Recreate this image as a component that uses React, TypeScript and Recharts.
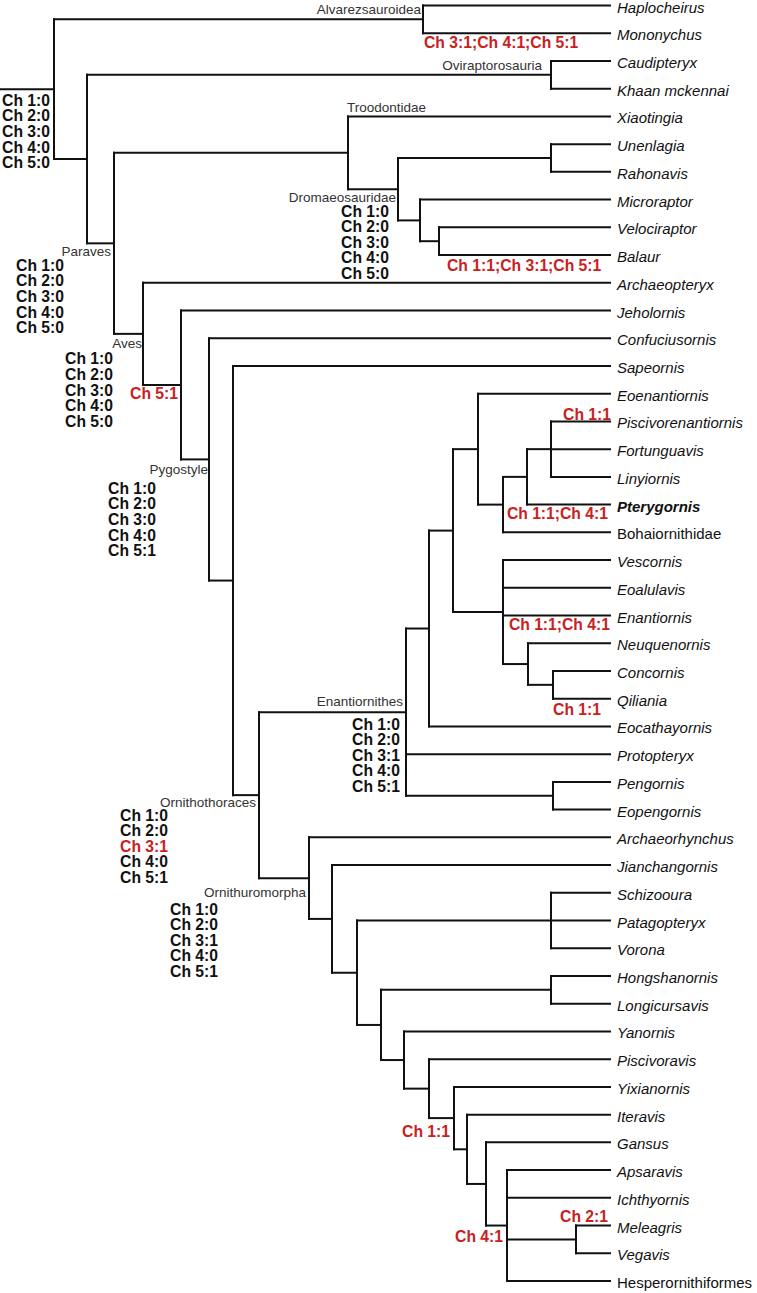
import { ReferenceLine, Scatter, ScatterChart, XAxis, YAxis } from "recharts";

// terminal taxa, top to bottom
const taxa = [
  "Haplocheirus", "Mononychus", "Caudipteryx", "Khaan mckennai", "Xiaotingia",
  "Unenlagia", "Rahonavis", "Microraptor", "Velociraptor", "Balaur",
  "Archaeopteryx", "Jeholornis", "Confuciusornis", "Sapeornis", "Eoenantiornis",
  "Piscivorenantiornis", "Fortunguavis", "Linyiornis", "Pterygornis", "Bohaiornithidae",
  "Vescornis", "Eoalulavis", "Enantiornis", "Neuquenornis", "Concornis",
  "Qiliania", "Eocathayornis", "Protopteryx", "Pengornis", "Eopengornis",
  "Archaeorhynchus", "Jianchangornis", "Schizooura", "Patagopteryx", "Vorona",
  "Hongshanornis", "Longicursavis", "Yanornis", "Piscivoravis", "Yixianornis",
  "Iteravis", "Gansus", "Apsaravis", "Ichthyornis", "Meleagris",
  "Vegavis", "Hesperornithiformes",
];
const plainTaxa = ["Bohaiornithidae", "Hesperornithiformes"];
const boldTaxa = ["Pterygornis"];

// internal nodes: id, depth (horizontal position of the split), children
const nodes: [string, number, string[]][] = [
  ["root", 54, ["alv", "n87"]],
  ["alv", 423, ["Haplocheirus", "Mononychus"]],
  ["n87", 87, ["ovi", "paraves"]],
  ["ovi", 551, ["Caudipteryx", "Khaan mckennai"]],
  ["paraves", 114, ["troo", "aves"]],
  ["troo", 348, ["Xiaotingia", "drom"]],
  ["drom", 398, ["unen", "n420"]],
  ["unen", 551, ["Unenlagia", "Rahonavis"]],
  ["n420", 420, ["Microraptor", "n439"]],
  ["n439", 439, ["Velociraptor", "Balaur"]],
  ["aves", 143, ["Archaeopteryx", "n181"]],
  ["n181", 181, ["Jeholornis", "pyg"]],
  ["pyg", 209, ["Confuciusornis", "n233"]],
  ["n233", 233, ["Sapeornis", "orth"]],
  ["orth", 259, ["enant", "ornu"]],
  ["enant", 406, ["n429", "Protopteryx", "peng"]],
  ["n429", 429, ["n453", "Eocathayornis"]],
  ["n453", 453, ["n478", "n503b"]],
  ["n478", 478, ["Eoenantiornis", "n503a"]],
  ["n503a", 503, ["n527", "Bohaiornithidae"]],
  ["n527", 527, ["n551p", "Pterygornis"]],
  ["n551p", 551, ["Piscivorenantiornis", "Fortunguavis", "Linyiornis"]],
  ["n503b", 503, ["Vescornis", "Eoalulavis", "Enantiornis", "n528"]],
  ["n528", 528, ["Neuquenornis", "n553c"]],
  ["n553c", 553, ["Concornis", "Qiliania"]],
  ["peng", 553, ["Pengornis", "Eopengornis"]],
  ["ornu", 309, ["Archaeorhynchus", "n332"]],
  ["n332", 332, ["Jianchangornis", "n357"]],
  ["n357", 357, ["n551s", "n381"]],
  ["n551s", 551, ["Schizooura", "Patagopteryx", "Vorona"]],
  ["n381", 381, ["n551h", "n404"]],
  ["n551h", 551, ["Hongshanornis", "Longicursavis"]],
  ["n404", 404, ["Yanornis", "n429b"]],
  ["n429b", 429, ["Piscivoravis", "n454"]],
  ["n454", 454, ["Yixianornis", "n467"]],
  ["n467", 467, ["Iteravis", "n486"]],
  ["n486", 486, ["Gansus", "n507"]],
  ["n507", 507, ["Apsaravis", "Ichthyornis", "n576", "Hesperornithiformes"]],
  ["n576", 576, ["Meleagris", "Vegavis"]],
];
const tipDepth = 610;

const cladeNames: [string, string][] = [
  ["alv", "Alvarezsauroidea"],
  ["ovi", "Oviraptorosauria"],
  ["troo", "Troodontidae"],
  ["drom", "Dromaeosauridae"],
  ["paraves", "Paraves"],
  ["aves", "Aves"],
  ["pyg", "Pygostyle"],
  ["orth", "Ornithothoraces"],
  ["enant", "Enantiornithes"],
  ["ornu", "Ornithuromorpha"],
];

// reconstructed states at nodes
const nodeStates: [string, string[]][] = [
  ["root", ["Ch 1:0", "Ch 2:0", "Ch 3:0", "Ch 4:0", "Ch 5:0"]],
  ["paraves", ["Ch 1:0", "Ch 2:0", "Ch 3:0", "Ch 4:0", "Ch 5:0"]],
  ["aves", ["Ch 1:0", "Ch 2:0", "Ch 3:0", "Ch 4:0", "Ch 5:0"]],
  ["pyg", ["Ch 1:0", "Ch 2:0", "Ch 3:0", "Ch 4:0", "Ch 5:1"]],
  ["drom", ["Ch 1:0", "Ch 2:0", "Ch 3:0", "Ch 4:0", "Ch 5:0"]],
  ["orth", ["Ch 1:0", "Ch 2:0", "Ch 3:1", "Ch 4:0", "Ch 5:1"]],
  ["enant", ["Ch 1:0", "Ch 2:0", "Ch 3:1", "Ch 4:0", "Ch 5:1"]],
  ["ornu", ["Ch 1:0", "Ch 2:0", "Ch 3:1", "Ch 4:0", "Ch 5:1"]],
];
const changedNodeStates: [string, string][] = [["orth", "Ch 3:1"]];

// state changes along branches (node id or taxon)
const transitions: [string, string][] = [
  ["alv", "Ch 3:1;Ch 4:1;Ch 5:1"],
  ["n439", "Ch 1:1;Ch 3:1;Ch 5:1"],
  ["n181", "Ch 5:1"],
  ["Piscivorenantiornis", "Ch 1:1"],
  ["Pterygornis", "Ch 1:1;Ch 4:1"],
  ["Enantiornis", "Ch 1:1;Ch 4:1"],
  ["Qiliania", "Ch 1:1"],
  ["n454", "Ch 1:1"],
  ["n507", "Ch 4:1"],
  ["Meleagris", "Ch 2:1"],
];

// label placement (pixel offsets from anchor)
const nameLayout: Record<string, [number, number, "start" | "end", boolean?]> = {
  alv: [-2, -10, "end"],
  ovi: [-9, -9, "end"],
  troo: [-1, -9, "start", true],
  drom: [-2, 8, "end"],
  paraves: [-3, 8, "end"],
  aves: [-1, 10, "end"],
  pyg: [-1, 10, "end"],
  orth: [-3, 7, "end"],
  enant: [-3, -11, "end"],
  ornu: [-3, 14, "end"],
};
const statesLayout: Record<string, [number, number]> = {
  root: [-4, 11],
  paraves: [-50, 22],
  aves: [-30, 25],
  pyg: [-53, 29],
  drom: [-9, 22],
  orth: [-91, 20],
  enant: [-6, 12],
  ornu: [-91, 31],
};
const transitionLayout: Record<string, [number, number, "start" | "end"]> = {
  alv: [1, 23, "start"],
  n439: [8, 24, "start"],
  n181: [-3, 9, "end"],
  Piscivorenantiornis: [1, -7, "end"],
  Pterygornis: [-2, 8.5, "end"],
  Enantiornis: [0, 8.5, "end"],
  Qiliania: [-9, 11, "end"],
  n454: [-4, 13, "end"],
  n507: [-4, 11, "end"],
  Meleagris: [-2, -9, "end"],
};

const RED = "#c9211e";
const INK = "#111";
const FONT = "'Liberation Sans', Arial, sans-serif";
const STATE_STEP = 15.6;

const nodeMap = new Map(nodes.map(([id, depth, children]) => [id, { depth, children }]));

function yOf(id: string): number {
  const leaf = taxa.indexOf(id);
  if (leaf >= 0) return leaf;
  const n = nodeMap.get(id)!;
  return (yOf(n.children[0]) + yOf(n.children[n.children.length - 1])) / 2;
}
function depthOf(id: string): number {
  return nodeMap.has(id) ? nodeMap.get(id)!.depth : tipDepth;
}

type Seg = [{ x: number; y: number }, { x: number; y: number }];
const segments: Seg[] = [];
segments.push([{ x: 0, y: yOf("root") }, { x: depthOf("root"), y: yOf("root") }]);
nodes.forEach(([, depth, children]) => {
  const ys = children.map(yOf);
  segments.push([{ x: depth, y: ys[0] }, { x: depth, y: ys[ys.length - 1] }]);
  children.forEach((c, i) => segments.push([{ x: depth, y: ys[i] }, { x: depthOf(c), y: ys[i] }]));
});

const leafPoints = taxa.map((name, i) => ({ x: tipDepth, y: i, name }));
const namePoints = cladeNames.map(([id, text]) => {
  const [dx, dy, anchor, top] = nameLayout[id];
  const n = nodeMap.get(id)!;
  return { x: n.depth, y: top ? yOf(n.children[0]) : yOf(id), text, dx, dy, anchor };
});
const statePoints = nodeStates.map(([id, lines]) => {
  const [dx, dy] = statesLayout[id];
  const red = changedNodeStates.filter(([n]) => n === id).map(([, t]) => t);
  return { x: depthOf(id), y: yOf(id), lines, red, dx, dy };
});
const transitionPoints = transitions.map(([id, text]) => {
  const [dx, dy, anchor] = transitionLayout[id];
  return { x: depthOf(id), y: yOf(id), text, dx, dy, anchor };
});

const LeafLabel = (p: any) => {
  const name: string = p.payload.name;
  return (
    <text
      x={p.cx + 7}
      y={p.cy + 1.5}
      dominantBaseline="central"
      fontFamily={FONT}
      fontSize={15}
      fontStyle={plainTaxa.includes(name) ? "normal" : "italic"}
      fontWeight={boldTaxa.includes(name) ? "bold" : "normal"}
      fill="#111"
    >
      {name}
    </text>
  );
};

const CladeLabel = (p: any) => (
  <text
    x={p.cx + p.payload.dx}
    y={p.cy + p.payload.dy}
    textAnchor={p.payload.anchor}
    dominantBaseline="central"
    fontFamily={FONT}
    fontSize={13.5}
    fill="#333"
  >
    {p.payload.text}
  </text>
);

const StateLabel = (p: any) => (
  <g>
    {p.payload.lines.map((t: string, i: number) => (
      <text
        key={i}
        x={p.cx + p.payload.dx}
        y={p.cy + p.payload.dy + i * STATE_STEP}
        textAnchor="end"
        dominantBaseline="central"
        fontFamily={FONT}
        fontSize={15.7}
        fontWeight="bold"
        fill={p.payload.red.includes(t) ? RED : INK}
      >
        {t}
      </text>
    ))}
  </g>
);

const TransitionLabel = (p: any) => (
  <text
    x={p.cx + p.payload.dx}
    y={p.cy + p.payload.dy}
    textAnchor={p.payload.anchor}
    dominantBaseline="central"
    fontFamily={FONT}
    fontSize={15.7}
    fontWeight="bold"
    fill={RED}
  >
    {p.payload.text}
  </text>
);

export default function App() {
  return (
    <div style={{ position: "absolute", left: 0, top: 0, background: "#fff" }}>
      <ScatterChart width={757} height={1293} margin={{ top: 5.5, right: 0, bottom: 12, left: 0 }}>
        <XAxis type="number" dataKey="x" domain={[0, 757]} hide />
        <YAxis type="number" dataKey="y" domain={[0, taxa.length - 1]} reversed hide />
        {segments.map((s, i) => (
          <ReferenceLine
            key={i}
            segment={s}
            stroke={INK}
            strokeWidth={2}
            strokeLinecap="square"
            ifOverflow="visible"
          />
        ))}
        <Scatter data={leafPoints} shape={LeafLabel} isAnimationActive={false} />
        <Scatter data={namePoints} shape={CladeLabel} isAnimationActive={false} />
        <Scatter data={statePoints} shape={StateLabel} isAnimationActive={false} />
        <Scatter data={transitionPoints} shape={TransitionLabel} isAnimationActive={false} />
      </ScatterChart>
    </div>
  );
}
